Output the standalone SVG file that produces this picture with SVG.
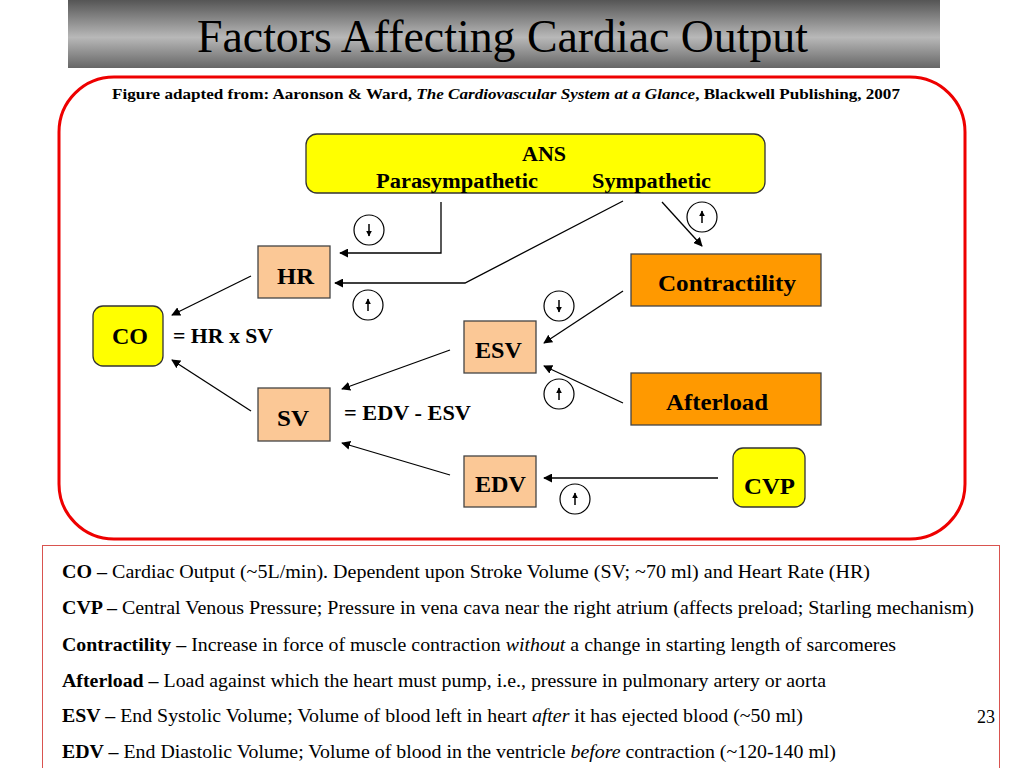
<svg xmlns="http://www.w3.org/2000/svg" width="1024" height="768" viewBox="0 0 1024 768">
<defs>
<linearGradient id="tg" x1="0" y1="0" x2="0" y2="1">
<stop offset="0" stop-color="#555"/>
<stop offset="0.55" stop-color="#b8b8b8"/>
<stop offset="1" stop-color="#666"/>
</linearGradient>
<marker id="ah" viewBox="0 0 10 10" refX="9" refY="5" markerWidth="9" markerHeight="9" markerUnits="userSpaceOnUse" orient="auto">
<path d="M0,0 L10,5 L0,10 z" fill="#000"/>
</marker>
<marker id="sa" viewBox="0 0 10 10" refX="9" refY="5" markerWidth="6" markerHeight="6" markerUnits="userSpaceOnUse" orient="auto">
<path d="M0,0 L10,5 L0,10 z" fill="#000"/>
</marker>
<g id="cup">
<circle r="15" fill="#fff" stroke="#000" stroke-width="1.2"/>
<line x1="0" y1="6" x2="0" y2="-6" stroke="#000" stroke-width="1.5" marker-end="url(#sa)"/>
</g>
<g id="cdown">
<circle r="15" fill="#fff" stroke="#000" stroke-width="1.2"/>
<line x1="0" y1="-6" x2="0" y2="6" stroke="#000" stroke-width="1.5" marker-end="url(#sa)"/>
</g>
</defs>
<style>
text{font-family:"Liberation Serif","Times New Roman",serif;fill:#000}
.b{font-weight:bold}
.lbl{font-size:24px}
.eq{font-size:21px}
.box{fill:#FBC896;stroke:#444;stroke-width:1.3}
.org{fill:#FF9900;stroke:#444;stroke-width:1.3}
.yel{fill:#FFFF00;stroke:#333;stroke-width:1.3}
.con{fill:none;stroke:#000;stroke-width:1.3}
.def{font-size:18px}
</style>
<rect width="1024" height="768" fill="#fff"/>
<rect x="68" y="0" width="872" height="68" fill="url(#tg)"/>
<text x="197" y="52" font-family="Liberation Serif, serif" font-size="46" textLength="611" lengthAdjust="spacingAndGlyphs">Factors Affecting Cardiac Output</text>
<rect x="59" y="77" width="906" height="462" rx="55" ry="55" fill="none" stroke="#ee0000" stroke-width="3"/>
<text x="112" y="99" class="b" font-size="14.5" textLength="788" lengthAdjust="spacingAndGlyphs">Figure adapted from: Aaronson &amp; Ward, <tspan font-style="italic">The Cardiovascular System at a Glance</tspan>, Blackwell Publishing, 2007</text>

<g id="ANS">
<rect x="306" y="134" width="459" height="59" rx="11" class="yel"/>
<text x="522" y="161" class="b" font-size="20.5" textLength="44" lengthAdjust="spacingAndGlyphs">ANS</text>
<text x="376" y="188" class="b" font-size="20.5" textLength="162" lengthAdjust="spacingAndGlyphs">Parasympathetic</text>
<text x="592" y="188" class="b" font-size="20.5" textLength="119" lengthAdjust="spacingAndGlyphs">Sympathetic</text>
</g>
<g id="HR"><rect x="258" y="246" width="72" height="52" class="box"/><text x="277" y="284" class="b lbl" textLength="37" lengthAdjust="spacingAndGlyphs">HR</text></g>
<g id="CO"><rect x="93" y="306" width="70" height="60" rx="10" class="yel"/><text x="112" y="344" class="b lbl" textLength="36" lengthAdjust="spacingAndGlyphs">CO</text></g>
<g id="SV"><rect x="258" y="388" width="72" height="53" class="box"/><text x="277" y="426" class="b lbl" textLength="32" lengthAdjust="spacingAndGlyphs">SV</text></g>
<g id="ESV"><rect x="464" y="321" width="72" height="52" class="box"/><text x="475" y="358" class="b lbl" textLength="47" lengthAdjust="spacingAndGlyphs">ESV</text></g>
<g id="EDV"><rect x="464" y="456" width="72" height="51" class="box"/><text x="475" y="492" class="b lbl" textLength="51" lengthAdjust="spacingAndGlyphs">EDV</text></g>
<g id="Contractility"><rect x="631" y="254" width="190" height="52" class="org"/><text x="658" y="291" class="b lbl" textLength="138" lengthAdjust="spacingAndGlyphs">Contractility</text></g>
<g id="Afterload"><rect x="631" y="373" width="190" height="52" class="org"/><text x="666" y="410" class="b lbl" textLength="102" lengthAdjust="spacingAndGlyphs">Afterload</text></g>
<g id="CVP"><rect x="733" y="448" width="72" height="59" rx="10" class="yel"/><text x="744" y="494" class="b lbl" textLength="51" lengthAdjust="spacingAndGlyphs">CVP</text></g>

<text x="173" y="343" class="b eq" textLength="100" lengthAdjust="spacingAndGlyphs">= HR x SV</text>
<text x="344" y="420" class="b eq" textLength="127" lengthAdjust="spacingAndGlyphs">= EDV - ESV</text>

<g id="connectors">
<polyline points="441,202 441,253 340,253" class="con" marker-end="url(#ah)"/>
<polyline points="623,201 465,283 335,283" class="con" marker-end="url(#ah)"/>
<line x1="662" y1="202" x2="702" y2="246" class="con" marker-end="url(#ah)"/>
<line x1="251" y1="276" x2="172" y2="315" class="con" marker-end="url(#ah)"/>
<line x1="251" y1="411" x2="172" y2="360" class="con" marker-end="url(#ah)"/>
<line x1="450" y1="350" x2="342" y2="389" class="con" marker-end="url(#ah)"/>
<line x1="450" y1="475" x2="342" y2="443" class="con" marker-end="url(#ah)"/>
<line x1="623" y1="291" x2="544" y2="343" class="con" marker-end="url(#ah)"/>
<line x1="623" y1="403" x2="544" y2="366" class="con" marker-end="url(#ah)"/>
<line x1="718" y1="478" x2="544" y2="478" class="con" marker-end="url(#ah)"/>
</g>
<g id="indicators">
<use href="#cdown" x="369" y="230"/>
<use href="#cup" x="702" y="217"/>
<use href="#cup" x="368" y="305"/>
<use href="#cdown" x="559" y="306"/>
<use href="#cup" x="559" y="394"/>
<use href="#cup" x="575" y="499"/>
</g>

<rect x="42.5" y="545.5" width="957" height="230" fill="none" stroke="#d9534f" stroke-width="1"/>
<g class="def">
<text x="62" y="578" class="def" textLength="808" lengthAdjust="spacingAndGlyphs"><tspan class="b">CO –</tspan> Cardiac Output (~5L/min).  Dependent upon Stroke Volume (SV; ~70 ml) and Heart Rate (HR)</text>
<text x="62" y="614" class="def" textLength="912" lengthAdjust="spacingAndGlyphs"><tspan class="b">CVP –</tspan> Central Venous Pressure; Pressure in vena cava  near the right atrium (affects preload; Starling mechanism)</text>
<text x="62" y="651" class="def" textLength="834" lengthAdjust="spacingAndGlyphs"><tspan class="b">Contractility –</tspan> Increase in force of muscle contraction <tspan font-style="italic">without</tspan> a change in starting length of sarcomeres</text>
<text x="62" y="687" class="def" textLength="764" lengthAdjust="spacingAndGlyphs"><tspan class="b">Afterload –</tspan> Load against which the heart must pump, i.e., pressure in pulmonary artery or aorta</text>
<text x="62" y="722" class="def" textLength="741" lengthAdjust="spacingAndGlyphs"><tspan class="b">ESV –</tspan> End Systolic Volume; Volume of blood left in heart <tspan font-style="italic">after</tspan> it has ejected blood (~50 ml)</text>
<text x="62" y="758" class="def" textLength="774" lengthAdjust="spacingAndGlyphs"><tspan class="b">EDV –</tspan> End Diastolic Volume; Volume of blood in the ventricle <tspan font-style="italic">before</tspan> contraction (~120-140 ml)</text>
<text x="977" y="723" class="def" textLength="18" lengthAdjust="spacingAndGlyphs">23</text>
</g>
</svg>
